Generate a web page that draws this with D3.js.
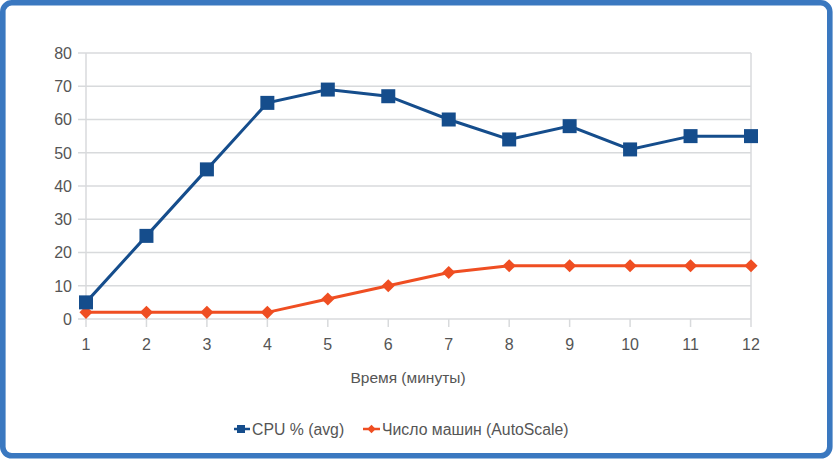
<!DOCTYPE html>
<html>
<head>
  <meta charset="utf-8">
  <style>
    body { margin: 0; background: #fff; }
    text { font-family: "Liberation Sans", Arial, sans-serif; fill: #555; }
  </style>
</head>
<body>
<svg id="chart" width="833" height="462"></svg>
<script src="https://cdnjs.cloudflare.com/ajax/libs/d3/7.8.5/d3.min.js"></script>
<script>
var minutes = [1, 2, 3, 4, 5, 6, 7, 8, 9, 10, 11, 12];
var cpuAvg = [5, 25, 45, 65, 69, 67, 60, 54, 58, 51, 55, 55];
var machines = [2, 2, 2, 2, 6, 10, 14, 16, 16, 16, 16, 16];
var yTicks = [0, 10, 20, 30, 40, 50, 60, 70, 80];
var seriesNames = ["CPU % (avg)", "Число машин (AutoScale)"];
var xTitle = "Время (минуты)";

var blue = "#154d8c", orange = "#ef4e22", grid = "#d8dadc";

var svg = d3.select("#chart");

// frame
svg.append("rect")
    .attr("x", 2.8).attr("y", 2.8)
    .attr("width", 827).attr("height", 453)
    .attr("rx", 9)
    .attr("fill", "#fff")
    .attr("stroke", "#3a78c0")
    .attr("stroke-width", 5.6);

var x = d3.scaleLinear().domain([1, 12]).range([86, 751]);
var y = d3.scaleLinear().domain([0, 80]).range([319, 53]);

// grid
svg.append("g").selectAll("line")
    .data(yTicks)
    .enter().append("line")
      .attr("x1", 78).attr("x2", x(12))
      .attr("y1", function(d) { return y(d); })
      .attr("y2", function(d) { return y(d); })
      .attr("stroke", grid).attr("stroke-width", 1.5);

// vertical axis lines + right border
svg.append("line")
    .attr("x1", x(1)).attr("x2", x(1))
    .attr("y1", y(80)).attr("y2", y(0) + 8)
    .attr("stroke", grid).attr("stroke-width", 1.5);
svg.append("line")
    .attr("x1", x(12)).attr("x2", x(12))
    .attr("y1", y(80)).attr("y2", y(0) + 8)
    .attr("stroke", grid).attr("stroke-width", 1.5);

// x ticks
svg.append("g").selectAll("line")
    .data(minutes.slice(1, -1))
    .enter().append("line")
      .attr("x1", function(d) { return x(d); })
      .attr("x2", function(d) { return x(d); })
      .attr("y1", y(0)).attr("y2", y(0) + 8)
      .attr("stroke", grid).attr("stroke-width", 1.5);

// y labels
svg.append("g").selectAll("text")
    .data(yTicks)
    .enter().append("text")
      .attr("x", 72)
      .attr("y", function(d) { return y(d); })
      .attr("dy", "0.36em")
      .attr("text-anchor", "end")
      .style("font-size", "16px")
      .text(function(d) { return d; });

// x labels
svg.append("g").selectAll("text")
    .data(minutes)
    .enter().append("text")
      .attr("x", function(d) { return x(d); })
      .attr("y", 344)
      .attr("dy", "0.36em")
      .attr("text-anchor", "middle")
      .style("font-size", "16px")
      .text(function(d) { return d; });

svg.append("text")
    .attr("x", 408).attr("y", 377)
    .attr("dy", "0.36em")
    .attr("text-anchor", "middle")
    .style("font-size", "15.5px")
    .text(xTitle);

var line = d3.line()
    .x(function(d, i) { return x(minutes[i]); })
    .y(function(d) { return y(d); });

// orange series
svg.append("path")
    .datum(machines)
    .attr("d", line)
    .attr("fill", "none")
    .attr("stroke", orange)
    .attr("stroke-width", 3);
svg.append("g").selectAll("path")
    .data(machines)
    .enter().append("path")
      .attr("d", d3.symbol().type(d3.symbolDiamond2).size(110))
      .attr("transform", function(d, i) { return "translate(" + x(minutes[i]) + "," + y(d) + ")"; })
      .attr("fill", orange);

// blue series
svg.append("path")
    .datum(cpuAvg)
    .attr("d", line)
    .attr("fill", "none")
    .attr("stroke", blue)
    .attr("stroke-width", 3);
svg.append("g").selectAll("rect")
    .data(cpuAvg)
    .enter().append("rect")
      .attr("x", function(d, i) { return x(minutes[i]) - 7; })
      .attr("y", function(d) { return y(d) - 7; })
      .attr("width", 14).attr("height", 14)
      .attr("fill", blue);

// legend
var ly = 429;
svg.append("line")
    .attr("x1", 234).attr("x2", 250).attr("y1", ly).attr("y2", ly)
    .attr("stroke", blue).attr("stroke-width", 2.5);
svg.append("rect")
    .attr("x", 237).attr("y", ly - 4).attr("width", 8).attr("height", 8)
    .attr("fill", blue);
svg.append("text")
    .attr("x", 252).attr("y", ly).attr("dy", "0.36em")
    .style("font-size", "15.8px")
    .text(seriesNames[0]);

svg.append("line")
    .attr("x1", 363).attr("x2", 380).attr("y1", ly).attr("y2", ly)
    .attr("stroke", orange).attr("stroke-width", 2.5);
svg.append("path")
    .attr("d", d3.symbol().type(d3.symbolDiamond2).size(45))
    .attr("transform", "translate(371.5," + ly + ")")
    .attr("fill", orange);
svg.append("text")
    .attr("x", 382).attr("y", ly).attr("dy", "0.36em")
    .style("font-size", "15.8px")
    .text(seriesNames[1]);
</script>
</body>
</html>
